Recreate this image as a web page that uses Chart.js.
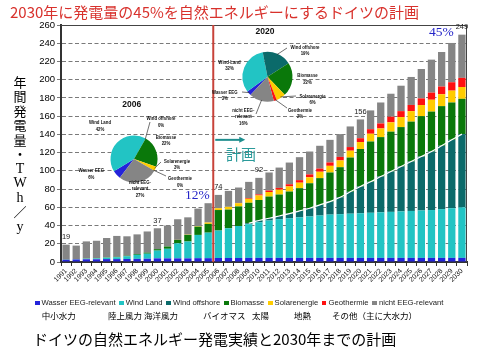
<!DOCTYPE html>
<html lang="ja">
<head>
<meta charset="utf-8">
<title>ドイツの自然エネルギー発電実績と2030年までの計画</title>
<script src="https://cdn.jsdelivr.net/npm/chart.js@4.4.1/dist/chart.umd.min.js"></script>
<style>
html,body{margin:0;padding:0;background:#fff;}
#wrap{position:relative;width:480px;height:360px;overflow:hidden;background:#fff;}
#wrap canvas{position:absolute;}
.txt{position:absolute;white-space:nowrap;}
.jp{font-family:"Noto Sans CJK JP","Noto Sans CJK SC",sans-serif;}
#legend{position:absolute;left:35px;top:298px;display:flex;gap:3.8px;font-family:"Liberation Sans",Arial,sans-serif;font-size:7.7px;line-height:10px;color:#222;white-space:nowrap;}
#legend .it{display:flex;align-items:center;}
#legend .it i{display:inline-block;width:4.5px;height:4.5px;margin-right:2px;}
.ja{position:absolute;top:310px;font-size:8.5px;line-height:10px;color:#000;white-space:nowrap;}
.yc{position:absolute;left:10px;width:20px;text-align:center;height:14px;line-height:14px;color:#000;}
</style>
</head>
<body>
<div id="wrap">
  <canvas id="mainChart" width="480" height="360" style="left:0;top:0;width:480px;height:360px;"></canvas>
  <canvas id="pie2006" width="140" height="115" style="left:70px;top:95px;width:140px;height:115px;"></canvas>
  <canvas id="pie2020" width="140" height="115" style="left:200px;top:20px;width:140px;height:115px;"></canvas>
  <div class="txt jp" style="left:10px;top:3px;font-size:15px;line-height:18px;color:#d8312c;">2030年に発電量の45%を自然エネルギーにするドイツの計画</div>
  <div id="yTitle"></div>
  <div class="txt jp" style="left:226px;top:145px;font-size:15px;line-height:18px;color:#2a9a9a;">計画</div>
  <div class="txt" style="left:185px;top:187px;font-family:'Liberation Serif','Times New Roman',serif;font-size:13.5px;line-height:16px;color:#2424c8;">12%</div>
  <div class="txt" style="left:429px;top:23.5px;font-family:'Liberation Serif','Times New Roman',serif;font-size:13.5px;line-height:16px;color:#2424c8;">45%</div>
  <div id="legend"></div>
  <div id="legendJa"></div>
  <div class="txt jp" style="left:33px;top:330px;font-size:15px;line-height:18px;color:#000;">ドイツの自然エネルギー発電実績と2030年までの計画</div>
</div>
<script>
// ---------------- data ----------------
const years = ['1991','1992','1993','1994','1995','1996','1997','1998','1999','2000',
  '2001','2002','2003','2004','2005','2006','2007','2008','2009','2010',
  '2011','2012','2013','2014','2015','2016','2017','2018','2019','2020',
  '2021','2022','2023','2024','2025','2026','2027','2028','2029','2030'];

const seriesNames = ['Wasser EEG-relevant','Wind Land','Wind offshore','Biomasse','Solarenergie','Geothermie','nicht EEG-relevant'];
const seriesNamesJa = ['中小水力','陸上風力','海洋風力','バイオマス','太陽','地熱','その他（主に大水力）'];

const wasser = [2.5,2.8,3.0,3.0,3.2,3.2,3.3,3.4,3.6,4.0,4.0,4.0,4.0,4.2,4.2,
  4.4,4.4,4.4,4.5,4.5,4.5,4.5,4.5,4.5,4.5,4.5,4.5,4.5,4.5,4.5,4.5,4.5,4.5,4.5,4.5,4.5,4.5,4.5,4.5,4.5];
const windLand = [0.1,0.2,0.6,0.9,1.5,2.0,3.0,4.5,5.5,8.5,10.5,16.5,18.5,25.5,28.0,
  30.1,32.6,35.1,37.0,39.0,41.0,42.5,43.5,44.5,45.5,46.5,47.5,48.0,48.5,49.0,49.5,50.0,50.5,51.0,51.5,52.0,52.5,53.5,54.5,55.5];
const windOffshore = [0,0,0,0,0,0,0,0,0,0,0,0,0,0,0,0,0,0,
  1.0,2.0,2.5,3.5,5.0,7.0,9.0,11.6,14.3,18.5,24.0,29.3,34.0,39.3,44.3,49.3,54.2,59.2,64.2,69.5,75.0,80.3];
const biomasse = [0.2,0.2,0.2,0.3,0.3,0.5,0.6,0.9,1.2,1.6,2.5,3.7,7.2,9.1,9.6,
  22.5,20.5,21.5,22.5,22.5,23.8,23.5,24.3,25.0,27.4,29.4,31.9,33.0,37.6,41.2,44.2,43.2,43.7,43.2,43.8,44.3,43.8,43.5,41.0,38.7];
const solar = [0,0,0,0,0,0,0,0,0,0,0,0.1,0.3,0.6,1.5,
  2.0,3.0,3.5,4.3,5.0,5.0,5.3,5.6,6.0,6.5,7.0,7.3,7.4,7.5,7.6,8.5,9.5,10.2,11.0,11.5,12.2,13.0,13.0,13.0,13.0];
const geothermie = [0,0,0,0,0,0,0,0,0,0,0,0,0,0,0,0,0,
  0.3,0.8,1.2,1.6,2.0,2.4,2.8,3.2,3.5,3.7,3.9,4.0,4.2,5.0,5.5,6.2,6.5,6.8,7.3,7.8,8.5,9.2,10.0];
const nichtEEG = [16.2,14.8,18.8,19.1,21.3,22.9,21.3,21.5,23.2,22.9,23.0,22.6,19.0,19.2,21.2,
  14.6,17.5,16.9,17.8,18.1,19.8,22.3,23.8,25.2,25.1,25.0,24.8,25.0,22.6,20.6,20.6,23.0,25.2,27.9,30.7,32.2,36.2,37.9,43.1,47.4];

const yTicks = [0,20,40,60,80,100,120,140,160,180,200,220,240,260];
const labelYears = ['1991','2000','2006','2010','2020','2030'];
const planStartYear = '2006';
const boundaryFromYear = '2009';

// pie shares (%)
const pie2006Shares = [6,42,0,22,3,0,27];
const pie2020Shares = [3,32,19,22,6,2,16];
const pie2006Names = [['Wasser EEG'],['Wind Land'],['Wind offshore'],['Biomasse'],['Solarenergie'],['Geothermie'],['nicht EEG-','relevant']];
const pie2020Names = [['Wasser EEG'],['Wind-Land'],['Wind offshore'],['Biomasse'],['Solarenergie'],['Geothermie'],['nicht EEG-','relevant']];

// ---------------- styling ----------------
const colors = ['#2424da','#22c4c4','#0b6a6a','#0a780a','#ffcc00','#ff1010','#858585'];
const FONT = '"Liberation Sans", Arial, sans-serif';

const seriesData = [wasser, windLand, windOffshore, biomasse, solar, geothermie, nichtEEG];
const totals = years.map((_, i) => seriesData.reduce((s, a) => s + a[i], 0));
const bFrom = years.indexOf(boundaryFromYear);
const offshoreTop = years.map((_, i) => i >= bFrom ? wasser[i] + windLand[i] + windOffshore[i] : null);

const datasets = seriesNames.map((n, k) => ({
  type: 'bar', label: n, data: seriesData[k], backgroundColor: colors[k],
  borderWidth: 0, stack: 'energy', order: 1, barPercentage: 0.72, categoryPercentage: 1.0
}));
datasets.push({
  type: 'line', label: 'boundary', data: offshoreTop, borderColor: '#ffffff', borderWidth: 1.2,
  pointRadius: 0, tension: 0.35, stack: 'line', order: 0, spanGaps: false
});

const mainDecor = {
  id: 'mainDecor',
  afterDatasetsDraw(chart) {
    const { ctx, chartArea: a, scales: { x, y } } = chart;
    ctx.save();
    // frame top + right
    ctx.strokeStyle = '#444'; ctx.lineWidth = 1; ctx.setLineDash([]);
    ctx.beginPath();
    ctx.moveTo(a.left, a.top + 0.5); ctx.lineTo(a.right, a.top + 0.5);
    ctx.moveTo(a.right - 0.5, a.top); ctx.lineTo(a.right - 0.5, a.bottom);
    ctx.stroke();
    // red split line
    const si = years.indexOf(planStartYear);
    const rx = (x.getPixelForValue(si - 1) + x.getPixelForValue(si)) / 2;
    ctx.strokeStyle = '#c8433a'; ctx.lineWidth = 2;
    ctx.beginPath(); ctx.moveTo(rx, a.top); ctx.lineTo(rx, a.bottom); ctx.stroke();
    // arrow
    const ay = y.getPixelForValue(134);
    ctx.strokeStyle = '#1e8e8e'; ctx.fillStyle = '#1e8e8e'; ctx.lineWidth = 2;
    ctx.beginPath(); ctx.moveTo(rx + 2, ay); ctx.lineTo(rx + 27, ay); ctx.stroke();
    ctx.beginPath(); ctx.moveTo(rx + 32, ay); ctx.lineTo(rx + 26, ay - 3); ctx.lineTo(rx + 26, ay + 3); ctx.closePath(); ctx.fill();
    // value labels
    ctx.font = '7.5px ' + FONT; ctx.fillStyle = '#222'; ctx.textAlign = 'center'; ctx.textBaseline = 'bottom';
    labelYears.forEach(yr => {
      const i = years.indexOf(yr);
      ctx.fillText(String(Math.round(totals[i])), x.getPixelForValue(i), y.getPixelForValue(totals[i]) - 4);
    });
    ctx.restore();
  }
};

new Chart(document.getElementById('mainChart'), {
  data: { labels: years, datasets },
  options: {
    responsive: false, animation: false, events: [],
    layout: { padding: { left: 0, right: 13, top: 25, bottom: 68 } },
    plugins: { legend: { display: false }, tooltip: { enabled: false }, title: { display: false } },
    scales: {
      x: {
        stacked: true, offset: true,
        grid: { display: true, drawOnChartArea: false, drawTicks: true, tickLength: 4, color: '#333', offset: true },
        border: { display: true, color: '#333', width: 2 },
        ticks: { autoSkip: false, maxRotation: 45, minRotation: 45, padding: 1, color: '#111', font: { size: 7, family: FONT } },
        afterFit(s) { s.height = 30; }
      },
      y: {
        stacked: true, min: 0, max: 260,
        afterBuildTicks(s) { s.ticks = yTicks.map(v => ({ value: v })); },
        grid: { color: '#7a7a7a', lineWidth: 1, tickLength: 4, drawTicks: true },
        border: { display: true, color: '#333', width: 2, dash: [4, 2.5] },
        ticks: { padding: 2, color: '#000', font: { size: 9.5, family: FONT } },
        afterFit(s) { s.width = 61; }
      }
    }
  },
  plugins: [mainDecor]
});

// ---------------- pies ----------------
function makePie(id, shares, names, rotation, pad, title, titlePos, labelPos, leaderEnds) {
  const cv = document.getElementById(id);
  const offL = parseFloat(cv.style.left), offT = parseFloat(cv.style.top);
  new Chart(cv, {
    type: 'pie',
    data: { labels: names.map(n => n.join(' ')), datasets: [{ data: shares, backgroundColor: colors, borderWidth: 0 }] },
    options: {
      responsive: false, animation: false, events: [], rotation,
      layout: { padding: pad },
      plugins: { legend: { display: false }, tooltip: { enabled: false } }
    },
    plugins: [{
      id: 'pieLabels',
      afterDatasetsDraw(chart) {
        const ctx = chart.ctx;
        const meta = chart.getDatasetMeta(0);
        ctx.save();
        ctx.fillStyle = '#111'; ctx.textAlign = 'center'; ctx.textBaseline = 'middle';
        ctx.font = 'bold 8.5px ' + FONT;
        ctx.fillText(title, titlePos[0] - offL, titlePos[1] - offT);
        ctx.font = 'bold 6px ' + FONT;
        meta.data.forEach((arc, k) => {
          const lines = names[k].concat([shares[k] + '%']);
          const [px, py] = labelPos[k];
          lines.forEach((ln, j) => {
            ctx.save();
            ctx.translate(px - offL, py - offT + j * 6.5);
            ctx.scale(0.72, 1);
            ctx.fillText(ln, 0, 0);
            ctx.restore();
          });
          if (leaderEnds[k]) {
            const p = arc.getProps(['x', 'y', 'startAngle', 'endAngle', 'outerRadius'], true);
            const ang = (p.startAngle + p.endAngle) / 2;
            const sx = p.x + Math.cos(ang) * (p.outerRadius - 1);
            const sy = p.y + Math.sin(ang) * (p.outerRadius - 1);
            ctx.strokeStyle = '#333'; ctx.lineWidth = 0.7;
            ctx.beginPath(); ctx.moveTo(sx, sy); ctx.lineTo(leaderEnds[k][0] - offL, leaderEnds[k][1] - offT); ctx.stroke();
          }
        });
        ctx.restore();
      }
    }]
  });
}

makePie('pie2006', pie2006Shares, pie2006Names, 217,
  { left: 40.5, top: 40.5, right: 52.5, bottom: 27.5 }, '2006', [131.7, 105],
  [[91.3, 170.5], [100, 122.5], [161, 118.7], [166, 137], [177, 161.3], [180, 178.7], [140, 182]],
  [null, null, [150, 122], null, [161, 162], [166, 176], null]);

makePie('pie2020', pie2020Shares, pie2020Names, 223,
  { left: 42.5, top: 31.7, right: 47.5, bottom: 33.3 }, '2020', [265, 31.7],
  [[224.8, 92], [229.5, 62.2], [305, 47.2], [307.5, 75.5], [312.5, 96], [300, 110.3], [243.3, 110.3]],
  [[242, 92], null, [287, 48], null, [296, 96], [287, 108], [256, 114]]);

// ---------------- legend & texts ----------------
const lg = document.getElementById('legend');
seriesNames.forEach((n, k) => {
  const it = document.createElement('span');
  it.className = 'it';
  const box = document.createElement('i');
  box.style.background = colors[k];
  it.appendChild(box);
  it.appendChild(document.createTextNode(n));
  lg.appendChild(it);
});
const jaX = [41.7, 108, 144, 203, 252, 294, 332];
const lj = document.getElementById('legendJa');
seriesNamesJa.forEach((n, k) => {
  const d = document.createElement('div');
  d.className = 'ja jp';
  d.style.left = jaX[k] + 'px';
  d.textContent = n;
  lj.appendChild(d);
});
const yTitleChars = ['年','間','発','電','量','・','Ｔ','Ｗ','ｈ','／','ｙ'];
const yt = document.getElementById('yTitle');
yTitleChars.forEach((c, k) => {
  const d = document.createElement('div');
  d.className = 'yc';
  const latin = /[Ｔ-ｙ]/.test(c);
  d.style.fontFamily = latin ? "'Liberation Serif','Times New Roman',serif" : '"Noto Sans CJK JP",sans-serif';
  d.style.fontSize = latin ? '14px' : '13px';
  d.style.top = (74.7 + k * 14.5) + 'px';
  d.textContent = latin ? String.fromCharCode(c.charCodeAt(0) - 0xFEE0) : c;
  yt.appendChild(d);
});
</script>
</body>
</html>
